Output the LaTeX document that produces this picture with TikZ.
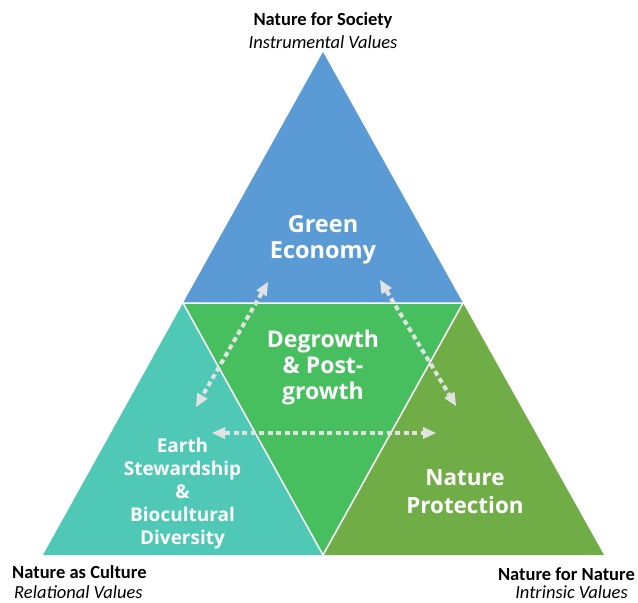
\documentclass[tikz,border=0pt]{standalone}
\usepackage{fontspec}
\setmainfont{Carlito}
\newfontfamily\innerfont{Open Sans}
\usetikzlibrary{arrows.meta}
\definecolor{cblue}{HTML}{5B9BD5}
\definecolor{cmid}{HTML}{47BF5E}
\definecolor{cteal}{HTML}{4FC9B5}
\definecolor{colive}{HTML}{70AD47}
\definecolor{carrow}{HTML}{E2E2E2}
\tikzset{
  inner/.style={text=white,align=center,inner sep=0pt,anchor=base},
  cornerb/.style={font=\bfseries\fontsize{18.5}{22}\selectfont,inner sep=0pt},
  corneri/.style={font=\itshape\fontsize{18.5}{22}\selectfont,inner sep=0pt},
  link/.style={carrow,line width=4pt,dash pattern=on 5pt off 3.5pt,
    {Triangle[length=13pt,width=12pt,line width=0pt]}-{Triangle[length=13pt,width=12pt,line width=0pt]}},
  edge/.style={white,line width=1.5pt}
}
\begin{document}
\begin{tikzpicture}[x=1pt,y=-1pt]
\useasboundingbox (0,0) rectangle (638,603);
\coordinate (T) at (323,52);
\coordinate (L) at (43,555);
\coordinate (R) at (604,555);
\coordinate (ML) at (183,303);
\coordinate (MR) at (463,303);
\coordinate (MB) at (323,555);
\fill[cblue] (T) -- (ML) -- (MR) -- cycle;
\fill[cmid] (ML) -- (MR) -- (MB) -- cycle;
\fill[cteal] (ML) -- (L) -- (MB) -- cycle;
\fill[colive] (MR) -- (MB) -- (R) -- cycle;
\draw[edge] (ML) -- (MR) -- (MB) -- cycle;

\node[inner,font=\innerfont\bfseries\fontsize{23.5}{25.5}\selectfont] (ge) at (323,258) {Green\\Economy};
\node[inner,font=\innerfont\bfseries\fontsize{23}{26}\selectfont] (dg) at (323,399) {Degrowth\\\& Post-\\growth};
\node[inner,font=\innerfont\bfseries\fontsize{19}{23}\selectfont] (es) at (182.5,544) {Earth\\Stewardship\\\&\\Biocultural\\Diversity};
\node[inner,font=\innerfont\bfseries\fontsize{22.4}{28}\selectfont] (np) at (465,513) {Nature\\Protection};

\node[cornerb,anchor=base] (ns) at (323,25) {Nature for Society};
\node[corneri,anchor=base] (iv) at (323,48) {Instrumental Values};
\node[cornerb,anchor=base west] (nc) at (12,578) {Nature as Culture};
\node[corneri,anchor=base west] (rv) at (14,598) {Relational Values};
\node[cornerb,anchor=base east] (nn) at (635,580) {Nature for Nature};
\node[corneri,anchor=base east] (ivn) at (628,598) {Intrinsic Values};

\coordinate (a1) at (268,282);
\coordinate (a2) at (196,407);
\coordinate (b1) at (380,280);
\coordinate (b2) at (456,406);
\coordinate (c1) at (212,433);
\coordinate (c2) at (436,433);
\draw[link] (a1) -- (a2);
\draw[link] (b1) -- (b2);
\draw[link] (c1) -- (c2);
\end{tikzpicture}
\end{document}
